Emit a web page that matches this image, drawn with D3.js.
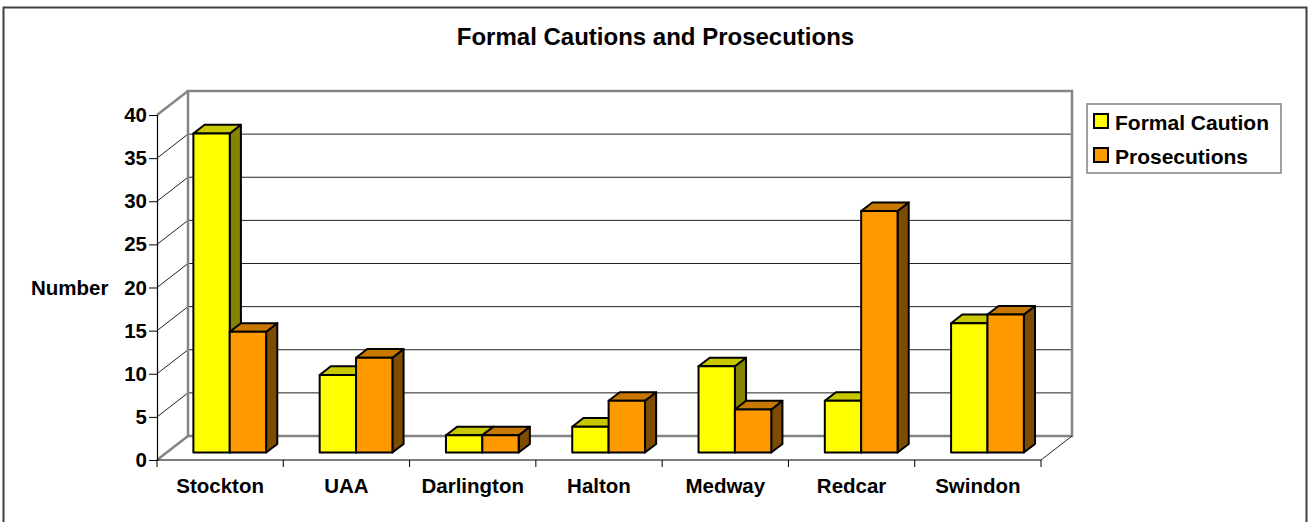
<!DOCTYPE html>
<html>
<head>
<meta charset="utf-8">
<script src="https://cdn.jsdelivr.net/npm/d3@7"></script>
<style>
  html, body { margin: 0; padding: 0; background: #fff; }
  svg text { font-family: "Liberation Sans", Arial, sans-serif; font-weight: bold; fill: #000; }
</style>
</head>
<body>
<svg id="chart" width="1308" height="522"></svg>
<script>
// Counts per authority
const categories = ["Stockton", "UAA", "Darlington", "Halton", "Medway", "Redcar", "Swindon"];
const formalCaution = [37, 9, 2, 3, 10, 6, 15];
const prosecutions = [14, 11, 2, 6, 5, 28, 16];
const seriesNames = ["Formal Caution", "Prosecutions"];
const yTicks = [0, 5, 10, 15, 20, 25, 30, 35, 40];

const seriesColors = [
  { front: "#FFFF00", top: "#C8C800", side: "#848400" },
  { front: "#FF9900", top: "#C87800", side: "#7E4C00" }
];

const svg = d3.select("#chart");

// Front plane of the 3-D box and the depth offset to the back wall
const x0 = 157, x1 = 1041, yBase = 460, yTop = 115;
const DX = 31, DY = 24;

const x = d3.scaleBand().domain(categories).range([x0, x1]).padding(0);
const y = d3.scaleLinear().domain([0, 40]).range([yBase, yTop]);
const inner = d3.scaleBand().domain(seriesNames)
  .range([0, x.bandwidth() * 0.576]);

// project a point of the front plane back by a depth fraction
const P = (px, py, d) => [px + d * DX, py - d * DY];
const poly = pts => "M" + pts.map(p => p.join(",")).join("L") + "Z";

// Outer frame
svg.append("rect")
  .attr("x", 3.5).attr("y", 7.5).attr("width", 1303).attr("height", 540)
  .attr("fill", "#fff").attr("stroke", "#404040").attr("stroke-width", 2);

// Title
svg.append("text")
  .attr("x", 655.5).attr("y", 45)
  .attr("text-anchor", "middle")
  .style("font-size", "24px")
  .text("Formal Cautions and Prosecutions");

// Back wall gridlines
const grid = svg.append("g");
yTicks.filter(t => t > 0 && t < 40).forEach(t => {
  const a = P(x0, y(t), 1), b = P(x1, y(t), 1);
  grid.append("line")
    .attr("x1", a[0]).attr("y1", a[1]).attr("x2", b[0]).attr("y2", b[1])
    .attr("stroke", "#222").attr("stroke-width", 1);
  // side wall gridline
  grid.append("line")
    .attr("x1", x0).attr("y1", y(t)).attr("x2", a[0]).attr("y2", a[1])
    .attr("stroke", "#222").attr("stroke-width", 1);
});

// Walls outline
const wallStroke = "#858585";
const bw = [P(x0, y(40), 1), P(x1, y(40), 1), P(x1, y(0), 1), P(x0, y(0), 1)];
svg.append("path").attr("d", poly(bw))
  .attr("fill", "none").attr("stroke", wallStroke).attr("stroke-width", 2.5);
svg.append("path")
  .attr("d", "M" + [x0, y(40)] + "L" + P(x0, y(40), 1) + "M" + [x0, y(0)] + "L" + P(x0, y(0), 1))
  .attr("fill", "none").attr("stroke", wallStroke).attr("stroke-width", 2.5);
// floor right edge
svg.append("path")
  .attr("d", "M" + [x1, y(0)] + "L" + P(x1, y(0), 1))
  .attr("fill", "none").attr("stroke", "#222").attr("stroke-width", 1);

// Bars
const dFront = 0.31, dBack = 0.67;
const barsG = svg.append("g");
categories.forEach((cat, i) => {
  const vals = [formalCaution[i], prosecutions[i]];
  const groupStart = x(cat) + (x.bandwidth() - inner.range()[1]) / 2;
  seriesNames.forEach((s, k) => {
    const v = vals[k];
    const xl = groupStart + inner(s), xr = xl + inner.bandwidth();
    const fTL = P(xl, y(v), dFront), fTR = P(xr, y(v), dFront);
    const fBR = P(xr, y(0), dFront), fBL = P(xl, y(0), dFront);
    const bTL = P(xl, y(v), dBack), bTR = P(xr, y(v), dBack);
    const bBR = P(xr, y(0), dBack);
    const c = seriesColors[k];
    const g = barsG.append("g")
      .attr("stroke", "#000").attr("stroke-width", 2).attr("stroke-linejoin", "round");
    g.append("path").attr("d", poly([fTR, bTR, bBR, fBR])).attr("fill", c.side);
    g.append("path").attr("d", poly([fTL, bTL, bTR, fTR])).attr("fill", c.top);
    g.append("path").attr("d", poly([fTL, fTR, fBR, fBL])).attr("fill", c.front);
  });
});

// Value axis
const yAxis = svg.append("g").attr("transform", `translate(${x0},0)`)
  .call(d3.axisLeft(y).tickValues(yTicks).tickSize(8).tickPadding(2));
yAxis.select(".domain").attr("stroke", "#000").attr("stroke-width", 1.2);
yAxis.selectAll(".tick line").attr("stroke", "#000");
yAxis.selectAll("text")
  .style("font-size", "20.5px").attr("font-family", null).attr("fill", "#000");

// Category axis
const xAxis = svg.append("g").attr("transform", `translate(0,${yBase})`)
  .call(d3.axisBottom(x).tickSize(0).tickPadding(0));
xAxis.select(".domain").remove();
xAxis.append("line").attr("x1", x0).attr("x2", x1)
  .attr("stroke", "#000").attr("stroke-width", 1.2);
x.domain().concat([null]).forEach((cat, i) => {
  const px = cat === null ? x1 : x(cat);
  xAxis.append("line").attr("x1", px).attr("x2", px).attr("y1", 0).attr("y2", 7)
    .attr("stroke", "#000");
});
xAxis.selectAll(".tick text")
  .attr("y", 33).attr("dy", 0)
  .style("font-size", "20.5px").attr("font-family", null).attr("fill", "#000");

// Axis title
svg.append("text").attr("x", 31).attr("y", 295)
  .style("font-size", "20.5px").text("Number");

// Legend
const lg = svg.append("g").attr("transform", "translate(1087,104)");
lg.append("rect").attr("width", 194).attr("height", 69)
  .attr("fill", "#fff").attr("stroke", "#808080").attr("stroke-width", 1.5);
seriesNames.forEach((s, k) => {
  const row = lg.append("g").attr("transform", `translate(7,${10 + k * 34})`);
  row.append("rect").attr("width", 14).attr("height", 14)
    .attr("fill", seriesColors[k].front).attr("stroke", "#000").attr("stroke-width", 2);
  row.append("text").attr("x", 21).attr("y", 16)
    .style("font-size", "21px").text(s);
});
</script>
</body>
</html>
